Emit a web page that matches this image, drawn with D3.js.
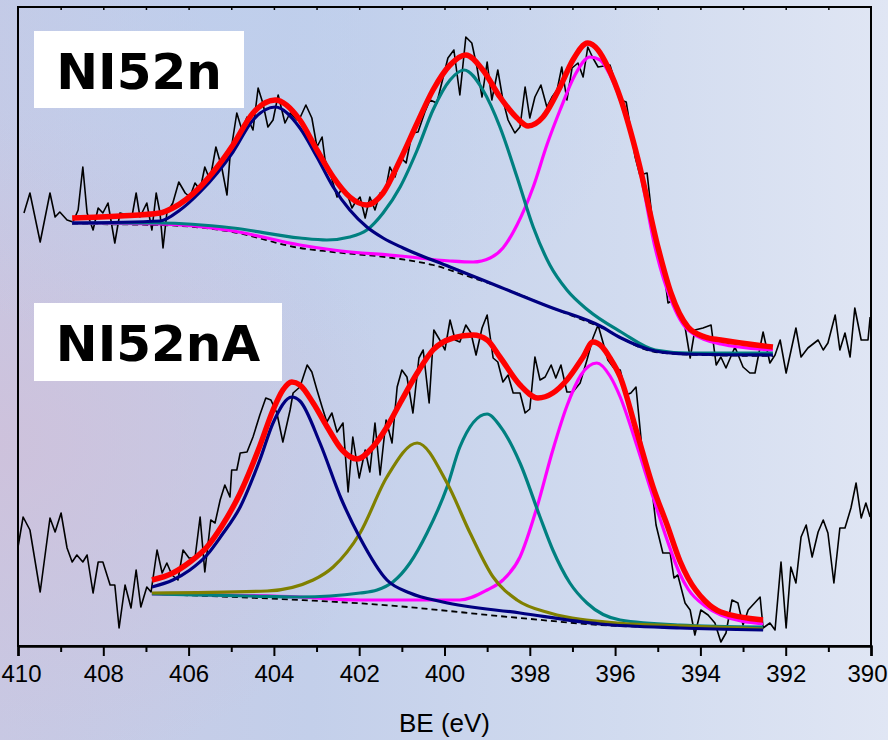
<!DOCTYPE html>
<html>
<head>
<meta charset="utf-8">
<script src="https://cdn.jsdelivr.net/npm/d3@7"></script>
<style>
  html, body { margin: 0; padding: 0; background: #dfe6f3; }
  svg { display: block; }
</style>
</head>
<body>
<div id="chart"></div>
<script>
// binding energy ticks
const tickValues = [410, 408, 406, 404, 402, 400, 398, 396, 394, 392, 390];
const minorTicks = [409, 407, 405, 403, 401, 399, 397, 395, 393, 391];
const sampleNames = ['NI52n', 'NI52nA'];

// NI52n  -- [BE, intensity a.u.]
const rawUpper = [[409.86,433],[409.72,453],[409.48,404],[409.25,453],[409.13,429],[409.02,434],[408.85,426],[408.71,424],[408.59,436],[408.48,479],[408.38,433],[408.24,416],[408.12,438],[408.01,433],[407.89,443],[407.73,403],[407.61,433],[407.44,431],[407.33,429],[407.23,453],[407.14,429],[406.98,443],[406.86,416],[406.76,453],[406.67,433],[406.60,398],[406.51,433],[406.37,443],[406.23,464],[406.08,453],[405.97,449],[405.85,463],[405.73,456],[405.62,479],[405.50,466],[405.36,499],[405.22,478],[405.10,451],[405.03,489],[404.87,533],[404.75,516],[404.63,529],[404.49,516],[404.37,558],[404.26,543],[404.14,519],[404.02,526],[403.90,551],[403.74,523],[403.62,533],[403.46,526],[403.39,528],[403.25,541],[403.11,528],[402.99,499],[402.87,509],[402.80,486],[402.68,473],[402.52,449],[402.40,458],[402.29,453],[402.17,438],[402.10,443],[401.98,449],[401.86,428],[401.75,449],[401.63,436],[401.51,453],[401.39,454],[401.28,479],[401.16,469],[401.04,489],[400.90,483],[400.76,513],[400.62,514],[400.46,534],[400.34,546],[400.18,543],[399.92,588],[399.78,596],[399.64,551],[399.50,609],[399.36,603],[399.24,579],[399.12,549],[399.00,584],[398.89,546],[398.75,576],[398.63,546],[398.51,526],[398.35,513],[398.23,519],[398.11,559],[398.00,528],[397.88,549],[397.74,561],[397.60,539],[397.48,549],[397.36,556],[397.25,579],[397.13,546],[397.01,578],[396.87,583],[396.75,569],[396.64,599],[396.52,588],[396.40,579],[396.26,580],[396.12,581],[395.87,546],[395.74,544],[395.53,489],[395.42,471],[395.25,473],[395.11,419],[394.83,366],[394.76,343],[394.64,346],[394.36,319],[394.24,288],[394.13,316],[393.94,318],[393.75,321],[393.63,281],[393.52,289],[393.40,278],[393.19,299],[393.00,279],[392.84,273],[392.72,273],[392.53,314],[392.37,283],[392.25,291],[392.13,306],[391.99,273],[391.76,318],[391.64,289],[391.48,298],[391.24,306],[391.12,296],[391.01,303],[390.84,331],[390.73,296],[390.61,313],[390.49,289],[390.38,338],[390.23,306],[390.07,306],[390.02,329]];
const envUpper = [[408.73,428],[407.61,430],[406.67,433],[406.37,438],[405.73,459],[405.33,479],[404.96,501],[404.49,533],[403.97,546],[403.39,526],[402.99,496],[402.61,469],[402.22,449],[401.82,441],[401.44,453],[401.04,486],[400.64,523],[400.27,556],[399.87,581],[399.50,591],[399.10,576],[398.70,549],[398.30,528],[398.04,520],[397.69,529],[397.29,559],[396.99,586],[396.64,603],[396.40,596],[396.17,579],[395.86,546],[395.46,486],[394.99,398],[394.69,353],[394.29,319],[393.89,309],[393.52,306],[392.30,299]];
const peak1Upper = [[408.73,423],[406.67,425],[406.20,436],[405.73,454],[404.96,494],[404.49,526],[403.97,539],[403.39,518],[402.99,489],[402.61,459],[402.22,436],[401.82,419],[401.44,408],[400.97,398],[399.87,379],[398.70,359],[397.53,339],[396.35,320],[395.86,308],[395.06,295],[394.29,292],[392.30,291]];
const peak2Upper = [[408.73,423],[406.67,423],[404.96,418],[403.39,408],[402.76,406],[402.22,409],[401.82,416],[401.44,433],[401.04,459],[400.64,496],[400.27,536],[399.87,566],[399.54,576],[399.10,556],[398.70,519],[398.30,469],[397.92,419],[397.53,381],[397.13,356],[396.64,336],[395.86,314],[395.06,296],[394.29,293],[392.30,293]];
const peak3Upper = [[408.73,423],[406.67,422],[404.96,415],[403.39,401],[402.61,396],[401.04,390],[399.87,385],[399.33,384],[398.93,388],[398.63,398],[398.30,421],[397.92,459],[397.60,501],[397.29,536],[396.94,571],[396.59,589],[396.35,586],[396.12,571],[395.86,544],[395.42,476],[395.06,398],[394.69,346],[394.29,316],[393.52,302],[392.30,296]];
const bgUpper = [[408.73,422],[406.67,421],[404.96,414],[403.39,398],[402.61,394],[401.04,387],[400.27,381],[399.47,370],[398.70,359],[397.53,339],[396.35,319],[395.06,294],[394.01,291],[392.30,290]];

// NI52nA
const rawLower = [[410.00,99],[409.88,129],[409.72,116],[409.48,54],[409.25,128],[409.13,114],[408.99,133],[408.85,98],[408.73,84],[408.62,91],[408.48,84],[408.38,91],[408.24,53],[408.12,84],[408.01,84],[407.84,61],[407.73,61],[407.63,18],[407.49,61],[407.35,38],[407.23,76],[407.12,39],[406.98,59],[406.88,54],[406.74,96],[406.62,73],[406.51,83],[406.39,71],[406.25,66],[406.13,96],[405.99,88],[405.85,88],[405.73,129],[405.62,74],[405.48,126],[405.38,123],[405.26,146],[405.15,161],[405.03,149],[404.99,176],[404.87,176],[404.79,193],[404.63,194],[404.49,209],[404.33,231],[404.19,248],[404.07,246],[403.93,233],[403.79,204],[403.62,236],[403.55,253],[403.39,259],[403.22,281],[403.11,274],[402.99,256],[402.87,239],[402.76,224],[402.64,233],[402.52,214],[402.38,223],[402.26,154],[402.15,209],[402.00,168],[401.86,196],[401.75,174],[401.63,223],[401.51,171],[401.37,226],[401.23,203],[401.11,259],[401.00,276],[400.88,269],[400.74,233],[400.60,288],[400.50,296],[400.36,243],[400.25,316],[400.11,306],[399.99,296],[399.87,326],[399.75,306],[399.64,304],[399.50,321],[399.38,313],[399.26,291],[399.12,318],[399.00,331],[398.86,288],[398.75,284],[398.63,264],[398.51,271],[398.39,253],[398.23,253],[398.11,233],[398.00,237],[397.88,289],[397.76,266],[397.64,269],[397.50,281],[397.39,268],[397.27,281],[397.13,254],[396.99,254],[396.82,263],[396.66,286],[396.52,308],[396.40,321],[396.28,303],[396.17,286],[396.03,278],[395.88,276],[395.74,251],[395.63,253],[395.51,259],[395.35,189],[395.16,166],[395.04,121],[394.88,93],[394.71,93],[394.62,68],[394.53,71],[394.36,43],[394.24,36],[394.13,11],[393.99,36],[393.82,31],[393.66,23],[393.52,4],[393.40,13],[393.26,46],[393.12,43],[393.00,21],[392.88,36],[392.60,49],[392.53,18],[392.37,23],[392.25,16],[392.11,84],[391.99,18],[391.88,79],[391.76,63],[391.64,109],[391.52,121],[391.38,89],[391.24,114],[391.12,126],[391.01,113],[390.87,63],[390.73,118],[390.61,118],[390.47,138],[390.35,163],[390.23,128],[390.12,143],[390.02,129]];
const envLower = [[406.86,66],[406.37,73],[405.97,84],[405.57,99],[405.22,120],[404.79,153],[404.33,200],[404.02,236],[403.79,256],[403.58,264],[403.39,261],[403.08,243],[402.75,219],[402.40,196],[402.05,187],[401.68,199],[401.35,219],[401.04,243],[400.64,273],[400.27,296],[399.80,308],[399.33,311],[399.00,306],[398.70,289],[398.23,261],[397.81,248],[397.46,253],[397.13,266],[396.75,289],[396.52,304],[396.30,299],[396.12,288],[395.88,269],[395.50,215],[395.11,159],[394.78,121],[394.48,85],[394.29,68],[393.89,45],[393.52,34],[392.53,26]];
const peak1Lower = [[406.86,59],[406.37,66],[405.97,76],[405.57,91],[405.22,111],[404.79,139],[404.33,186],[404.02,223],[403.58,249],[403.39,245],[402.92,203],[402.43,148],[401.98,108],[401.35,66],[400.81,53],[400.04,44],[398.23,33],[396.35,22],[394.48,18],[392.53,16]];
const peak2Lower = [[406.86,53],[404.16,55],[403.08,66],[402.61,79],[401.98,113],[401.35,169],[400.64,203],[399.94,163],[399.40,113],[398.86,69],[398.30,46],[397.53,33],[395.95,23],[394.29,20],[392.53,17]];
const peak3Lower = [[406.86,52],[404.56,50],[403.39,49],[401.98,53],[401.58,56],[401.21,64],[400.81,83],[400.41,113],[399.94,159],[399.64,199],[399.00,232],[398.70,220],[398.23,183],[397.76,129],[397.46,96],[397.06,63],[396.66,43],[395.88,26],[394.48,21],[392.53,19]];
const peak4Lower = [[406.86,52],[403.39,49],[401.98,46],[399.64,46],[399.00,56],[398.63,66],[398.23,89],[397.83,139],[397.46,196],[397.13,240],[396.80,271],[396.43,283],[396.12,270],[395.88,249],[395.51,203],[395.11,149],[394.78,106],[394.48,72],[394.29,57],[393.89,40],[393.52,31],[392.53,22]];
const bgLower = [[406.86,52],[403.39,46],[401.75,42],[398.23,28],[396.35,21],[394.29,18],[392.53,16]];

const width = 888, height = 740;
const mLeft = 18, mRight = 871, mTop = 7, mBottom = 646;

const svg = d3.select('#chart').append('svg')
  .attr('width', width)
  .attr('height', height);

const defs = svg.append('defs');
const lg = defs.append('linearGradient').attr('id', 'bg').attr('x1', 0).attr('x2', 1).attr('y1', 0).attr('y2', 0);
lg.append('stop').attr('offset', '0%').attr('stop-color', '#c7c9e4');
lg.append('stop').attr('offset', '35%').attr('stop-color', '#c3cfea');
lg.append('stop').attr('offset', '70%').attr('stop-color', '#d1dbef');
lg.append('stop').attr('offset', '100%').attr('stop-color', '#e0e6f4');
const rg = defs.append('radialGradient').attr('id', 'tint').attr('cx', '0%').attr('cy', '60%').attr('r', '45%');
rg.append('stop').attr('offset', '0%').attr('stop-color', '#cfc0da').attr('stop-opacity', 0.8);
rg.append('stop').attr('offset', '100%').attr('stop-color', '#cfc0da').attr('stop-opacity', 0);
const vg = defs.append('radialGradient').attr('id', 'topblue').attr('cx', '25%').attr('cy', '0%').attr('r', '50%');
vg.append('stop').attr('offset', '0%').attr('stop-color', '#bccfee').attr('stop-opacity', 0.6);
vg.append('stop').attr('offset', '100%').attr('stop-color', '#bccfee').attr('stop-opacity', 0);

svg.append('rect').attr('width', width).attr('height', height).attr('fill', 'url(#bg)');
svg.append('rect').attr('width', width).attr('height', height).attr('fill', 'url(#tint)');
svg.append('rect').attr('width', width).attr('height', height).attr('fill', 'url(#topblue)');

const x = d3.scaleLinear().domain([410, 390]).range([mLeft, mRight]);
const y = d3.scaleLinear().domain([0, 640]).range([mBottom, mTop - 1]);

const line = d3.line().x(d => x(d[0])).y(d => y(d[1]));
const smooth = d3.line().x(d => x(d[0])).y(d => y(d[1])).curve(d3.curveMonotoneX);

// raw spectra
[rawUpper, rawLower].forEach(s => {
  svg.append('path').datum(s)
    .attr('d', line)
    .attr('fill', 'none')
    .attr('stroke', '#000')
    .attr('stroke-width', 1.6)
    .attr('stroke-linejoin', 'round');
});

// backgrounds (dashed)
[bgUpper, bgLower].forEach(s => {
  svg.append('path').datum(s)
    .attr('d', smooth)
    .attr('fill', 'none')
    .attr('stroke', '#000')
    .attr('stroke-width', 1.8)
    .attr('stroke-dasharray', '6,4');
});

const comps = [
  [peak3Upper, '#ff00ff'], [peak2Upper, '#008080'], [peak1Upper, '#000080'],
  [peak4Lower, '#ff00ff'], [peak3Lower, '#008080'], [peak2Lower, '#808000'], [peak1Lower, '#000080']
];
comps.forEach(c => {
  svg.append('path').datum(c[0])
    .attr('d', smooth)
    .attr('fill', 'none')
    .attr('stroke', c[1])
    .attr('stroke-width', 3.2);
});

[envUpper, envLower].forEach(s => {
  svg.append('path').datum(s)
    .attr('d', smooth)
    .attr('fill', 'none')
    .attr('stroke', '#ff0000')
    .attr('stroke-width', 5.5);
});

// frame
svg.append('rect')
  .attr('x', mLeft).attr('y', mTop)
  .attr('width', mRight - mLeft).attr('height', mBottom - mTop)
  .attr('fill', 'none').attr('stroke', '#000').attr('stroke-width', 2);

// bottom axis
const xAxis = svg.append('g')
  .attr('transform', `translate(0,${mBottom})`)
  .call(d3.axisBottom(x).tickValues(tickValues).tickFormat(d3.format('d')).tickSize(10).tickPadding(9));
xAxis.select('.domain').attr('stroke-width', 2.5);
xAxis.selectAll('.tick line').attr('stroke-width', 2);
xAxis.selectAll('text')
  .attr('font-family', 'Liberation Sans, Arial, sans-serif')
  .attr('font-size', 24)
  .attr('fill', '#000');
// keep the end labels inside the window
xAxis.selectAll('.tick text').filter(d => d === 410).attr('text-anchor', 'start').attr('x', -17);
xAxis.selectAll('.tick text').filter(d => d === 390).attr('text-anchor', 'end').attr('x', 16);

svg.append('g')
  .attr('transform', `translate(0,${mBottom})`)
  .call(d3.axisBottom(x).tickValues(minorTicks).tickFormat('').tickSize(6))
  .call(g => g.select('.domain').remove())
  .selectAll('.tick line').attr('stroke-width', 2);

// small inner ticks on top frame
svg.append('g')
  .attr('transform', `translate(0,${mTop})`)
  .call(d3.axisBottom(x).tickValues(minorTicks.concat(tickValues.slice(1, -1))).tickFormat('').tickSize(3))
  .call(g => g.select('.domain').remove())
  .selectAll('.tick line').attr('stroke-width', 1.5);

svg.append('text')
  .attr('x', (mLeft + mRight) / 2)
  .attr('y', 732)
  .attr('text-anchor', 'middle')
  .attr('font-family', 'Liberation Sans, Arial, sans-serif')
  .attr('font-size', 26)
  .text('BE (eV)');

// sample labels
const labelBoxes = [
  { x: 34, y: 31, w: 210, h: 77 },
  { x: 34, y: 303, w: 248, h: 78 }
];
sampleNames.forEach((name, i) => {
  const b = labelBoxes[i];
  svg.append('rect')
    .attr('x', b.x).attr('y', b.y)
    .attr('width', b.w).attr('height', b.h)
    .attr('fill', '#fff');
  svg.append('text')
    .attr('x', b.x + b.w / 2)
    .attr('y', b.y + 58)
    .attr('text-anchor', 'middle')
    .attr('font-family', 'DejaVu Sans, Verdana, sans-serif')
    .attr('font-weight', 'bold')
    .attr('font-size', 50)
    .attr('fill', '#000')
    .text(name);
});
</script>
</body>
</html>
